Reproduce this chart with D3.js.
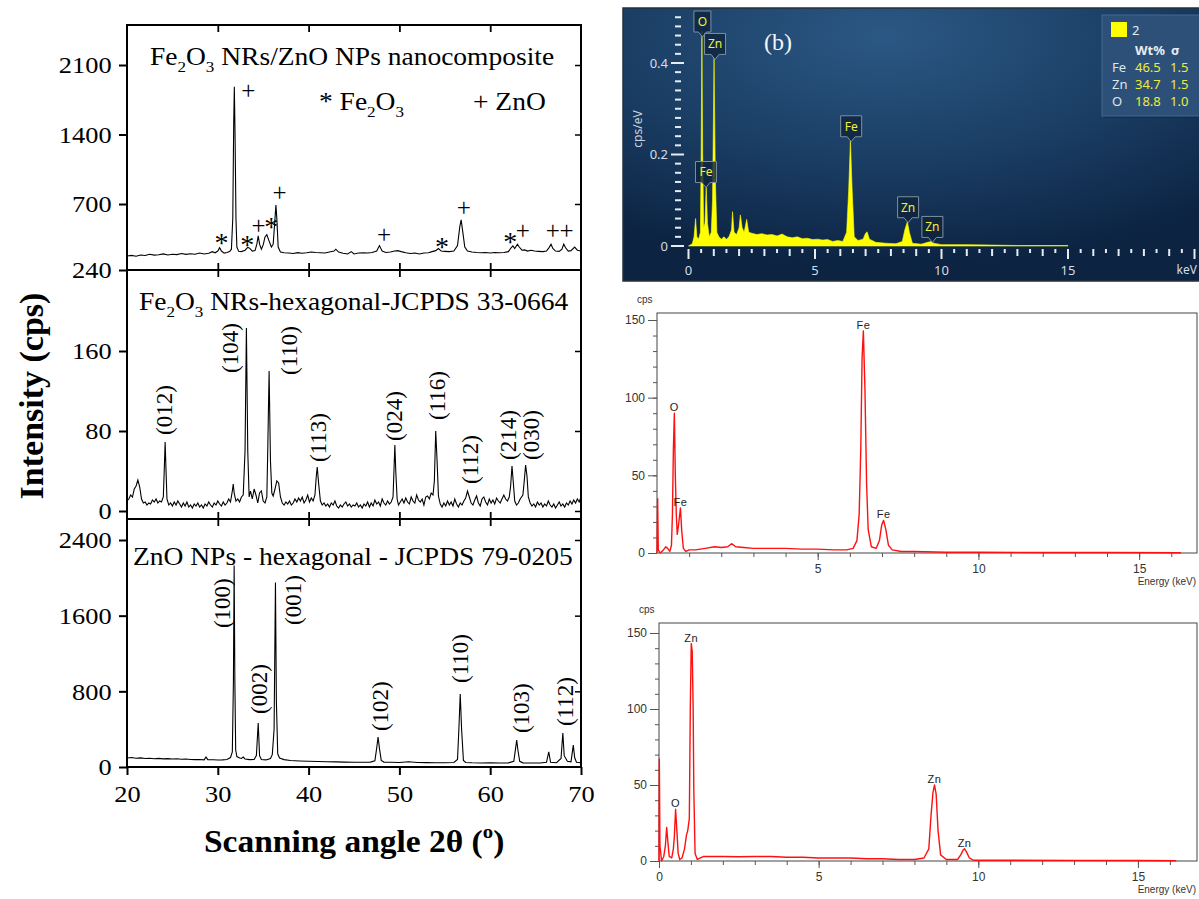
<!DOCTYPE html>
<html>
<head>
<meta charset="utf-8">
<script src="https://cdn.jsdelivr.net/npm/d3@7"></script>
<style>
  body { margin: 0; background: #fff; }
  svg { display: block; }
</style>
</head>
<body>
<svg width="1199" height="899"></svg>
<script>
// ---------- XRD data (2theta in degrees, intensity in cps) ----------
const xrdTicksX = [20, 30, 40, 50, 60, 70]
const compTicksY = [240, 700, 1400, 2100]
const fe2o3TicksY = [0, 80, 160]
const znoTicksY = [0, 800, 1600, 2400]

const compPattern = [
  [20.0,338],[20.5,342],[21.0,336],[21.5,345],[22.0,341],[22.5,350],[23.0,344],[23.5,346],[24.0,352],[24.5,345],
  [25.0,350],[25.5,347],[26.0,355],[26.5,349],[27.0,353],[27.5,350],[28.0,358],[28.5,352],[29.0,357],[29.4,368],
  [29.7,360],[30.0,372],[30.2,395],[30.4,372],[30.7,358],[31.0,362],[31.3,368],[31.5,385],[31.65,600],[31.75,1500],
  [31.82,1880],[31.9,1400],[32.0,600],[32.1,400],[32.3,370],[32.6,368],[33.0,378],[33.3,398],[33.5,392],[33.8,372],
  [34.1,375],[34.3,420],[34.45,478],[34.6,420],[34.8,385],[35.0,415],[35.2,470],[35.4,486],[35.6,450],[35.9,400],
  [36.1,420],[36.3,600],[36.4,692],[36.5,600],[36.65,400],[36.9,365],[37.3,360],[37.8,358],[38.3,355],[38.8,361],
  [39.3,357],[39.8,360],[40.3,365],[40.8,362],[41.3,360],[41.8,358],[42.3,365],[42.8,372],[43.0,385],[43.3,365],
  [43.8,357],[44.3,352],[44.7,368],[45.0,352],[45.5,358],[46.0,360],[46.5,358],[47.0,362],[47.5,372],[47.8,410],
  [48.1,372],[48.5,362],[49.0,365],[49.5,372],[49.8,375],[50.2,368],[50.7,360],[51.2,355],[51.7,358],[52.2,352],
  [52.7,358],[53.2,360],[53.6,368],[54.0,375],[54.3,390],[54.6,372],[55.0,370],[55.5,368],[56.0,372],[56.4,410],
  [56.65,540],[56.8,590],[56.95,520],[57.2,400],[57.5,372],[58.0,365],[58.5,362],[59.0,360],[59.5,362],[60.0,358],
  [60.5,362],[61.0,360],[61.5,362],[62.0,368],[62.3,395],[62.5,408],[62.7,390],[63.0,420],[63.2,400],[63.5,378],
  [63.8,380],[64.1,372],[64.5,378],[64.9,372],[65.3,370],[65.8,368],[66.2,372],[66.5,398],[66.7,420],[66.9,390],
  [67.2,372],[67.6,370],[67.9,385],[68.1,420],[68.3,395],[68.6,372],[68.9,375],[69.3,400],[69.6,378],[70.0,372]
]

const fe2o3Pattern = [
  [20.0,10],[20.2,12],[20.4,16],[20.6,14],[20.8,22],[21.0,25],[21.2,31],[21.4,24],[21.6,12],[21.8,8],
  [22.0,9],[22.2,6],[22.4,8],[22.6,7],[22.8,11],[23.0,9],[23.2,12],[23.4,8],[23.6,10],[23.8,9],
  [24.0,14],[24.1,40],[24.2,69],[24.3,40],[24.4,12],[24.6,6],[24.8,8],[25.0,5],[25.2,9],[25.4,6],
  [25.6,10],[25.8,7],[26.0,4],[26.2,8],[26.4,5],[26.6,9],[26.8,4],[27.0,6],[27.2,3],[27.4,7],
  [27.6,5],[27.8,8],[28.0,4],[28.2,6],[28.4,3],[28.6,7],[28.8,5],[29.0,9],[29.2,6],[29.4,4],
  [29.6,8],[29.8,6],[30.0,10],[30.2,7],[30.4,5],[30.6,9],[30.8,6],[31.0,8],[31.2,12],[31.4,9],
  [31.6,20],[31.7,27],[31.8,18],[32.0,10],[32.2,12],[32.4,9],[32.6,14],[32.8,16],[33.0,60],[33.15,183],
  [33.3,60],[33.45,14],[33.6,20],[33.8,12],[34.0,22],[34.2,16],[34.4,8],[34.6,18],[34.8,20],[35.0,10],
  [35.2,8],[35.4,14],[35.5,60],[35.65,140],[35.8,50],[35.95,18],[36.1,15],[36.3,22],[36.5,30],[36.7,28],
  [36.9,14],[37.1,8],[37.3,6],[37.5,9],[37.7,7],[37.9,10],[38.1,6],[38.3,8],[38.5,12],[38.7,9],
  [38.9,13],[39.1,10],[39.3,14],[39.5,8],[39.7,11],[39.9,16],[40.1,9],[40.3,13],[40.5,10],[40.7,16],
  [40.85,35],[40.95,44],[41.1,28],[41.3,10],[41.5,6],[41.7,8],[41.9,5],[42.1,7],[42.3,4],[42.5,8],
  [42.7,6],[42.9,10],[43.1,5],[43.3,3],[43.5,6],[43.7,4],[43.9,7],[44.1,9],[44.3,5],[44.5,7],
  [44.7,4],[44.9,6],[45.1,5],[45.3,8],[45.5,4],[45.7,6],[45.9,3],[46.1,7],[46.3,5],[46.5,9],
  [46.7,4],[46.9,8],[47.1,5],[47.3,11],[47.5,7],[47.7,9],[47.9,5],[48.1,12],[48.3,8],[48.5,6],
  [48.7,10],[48.9,7],[49.1,9],[49.3,14],[49.4,40],[49.5,66],[49.6,40],[49.75,12],[49.9,6],[50.1,9],
  [50.3,12],[50.5,8],[50.7,13],[50.9,9],[51.1,7],[51.3,14],[51.5,10],[51.7,8],[51.9,16],[52.1,11],
  [52.3,9],[52.5,12],[52.7,6],[52.9,14],[53.1,15],[53.3,12],[53.5,18],[53.7,16],[53.85,30],[54.0,80],
  [54.15,50],[54.3,15],[54.5,7],[54.7,4],[54.9,8],[55.1,5],[55.3,10],[55.5,6],[55.7,9],[55.9,5],
  [56.1,12],[56.3,7],[56.5,4],[56.7,8],[56.9,6],[57.1,10],[57.3,13],[57.5,20],[57.7,14],[57.9,8],
  [58.1,6],[58.3,11],[58.5,15],[58.7,8],[58.9,5],[59.1,12],[59.3,14],[59.5,9],[59.7,6],[59.9,12],
  [60.1,8],[60.3,11],[60.5,7],[60.7,13],[60.9,10],[61.1,8],[61.3,12],[61.5,16],[61.7,12],[61.9,10],
  [62.1,14],[62.25,25],[62.4,45],[62.55,28],[62.7,10],[62.9,6],[63.1,8],[63.3,12],[63.6,16],[63.75,30],
  [63.9,46],[64.05,35],[64.2,14],[64.4,8],[64.6,5],[64.8,7],[65.0,4],[65.2,9],[65.4,6],[65.6,8],
  [65.8,4],[66.0,7],[66.2,5],[66.4,10],[66.6,6],[66.8,4],[67.0,7],[67.2,3],[67.4,6],[67.6,9],
  [67.8,5],[68.0,7],[68.2,4],[68.4,8],[68.6,6],[68.8,10],[69.0,7],[69.2,11],[69.4,8],[69.6,12],
  [69.8,9],[70.0,14]
]

const znoPattern = [
  [20.0,95],[20.5,100],[21.0,92],[21.5,96],[22.0,90],[22.5,93],[23.0,88],[23.5,91],[24.0,86],[24.5,89],
  [25.0,85],[25.5,87],[26.0,82],[26.5,85],[27.0,80],[27.5,78],[28.0,80],[28.5,76],[28.7,105],[28.9,78],
  [29.5,76],[30.0,74],[30.5,75],[31.0,80],[31.4,100],[31.6,160],[31.72,900],[31.8,2130],[31.88,900],[31.97,180],
  [32.1,110],[32.4,95],[32.6,90],[32.8,105],[33.0,85],[33.5,78],[34.0,80],[34.25,120],[34.45,465],[34.6,120],
  [34.8,80],[35.3,75],[35.8,90],[36.0,130],[36.2,400],[36.35,1950],[36.45,700],[36.6,140],[36.8,95],[37.3,78],
  [38.0,68],[39.0,64],[40.0,60],[41.0,58],[42.0,55],[43.0,54],[44.0,52],[45.0,50],[46.0,50],[46.8,52],
  [47.3,65],[47.5,200],[47.65,317],[47.8,200],[48.0,70],[48.3,52],[49.0,50],[50.0,48],[51.0,55],[52.0,47],
  [53.0,46],[54.0,45],[55.0,45],[56.0,48],[56.4,80],[56.55,400],[56.7,772],[56.85,400],[57.05,70],[57.3,48],
  [58.0,45],[59.0,43],[60.0,45],[61.0,42],[62.0,44],[62.6,60],[62.8,200],[62.92,285],[63.05,180],[63.25,60],
  [63.6,44],[64.5,42],[65.5,42],[66.2,50],[66.45,160],[66.65,50],[67.3,45],[67.8,90],[68.0,360],[68.15,120],
  [68.5,60],[68.9,55],[69.15,232],[69.3,100],[69.5,50],[70.0,45]
]

// phase markers on the composite pattern: symbol, 2theta, cps
const compMarks = [
  ['+',33.35,1838],['*',30.4,463],['*',33.25,449],['+',34.5,547],['*',35.9,575],['+',36.8,811],
  ['+',48.3,484],['*',54.7,435],['+',57.1,672],['*',62.2,470],['+',63.6,512],['+',66.9,512],['+',68.4,512]
]
// Miller indices: label, 2theta, cps at label foot
const fe2o3Planes = [
  ['(012)',24.2,76],['(104)',31.5,138],['(110)',38.0,136],['(113)',41.2,49],['(024)',49.5,70],
  ['(116)',54.3,91],['(112)',57.9,27],['(214)',62.05,51],['(030)',64.6,51]
]
const znoPlanes = [
  ['(100)',30.6,1469],['(002)',34.7,560],['(001)',38.4,1501],['(102)',48.0,380],
  ['(110)',56.75,888],['(103)',63.5,359],['(112)',68.35,433]
]

// ---------- EDS data (energy keV) ----------
const edsCompTicksY = [0, 0.2, 0.4]
const edsCompTicksX = [0, 5, 10, 15]
const edsComp = [
  [0.0,0],[0.15,0.005],[0.22,0.02],[0.28,0.06],[0.33,0.02],[0.4,0.015],[0.47,0.03],[0.5,0.2],[0.53,0.47],[0.56,0.2],
  [0.6,0.04],[0.65,0.05],[0.7,0.13],[0.75,0.05],[0.82,0.02],[0.9,0.03],[0.95,0.1],[1.01,0.41],[1.06,0.15],[1.12,0.03],
  [1.2,0.02],[1.3,0.015],[1.4,0.02],[1.5,0.015],[1.6,0.02],[1.7,0.035],[1.74,0.075],[1.8,0.03],[1.9,0.025],[2.0,0.04],
  [2.05,0.068],[2.12,0.04],[2.2,0.03],[2.3,0.058],[2.38,0.03],[2.5,0.028],[2.7,0.025],[2.9,0.027],[3.1,0.024],[3.3,0.025],
  [3.5,0.022],[3.7,0.026],[3.9,0.02],[4.1,0.018],[4.3,0.02],[4.5,0.016],[4.7,0.017],[4.9,0.014],[5.1,0.015],[5.3,0.013],
  [5.5,0.014],[5.7,0.01],[5.9,0.012],[6.1,0.01],[6.25,0.03],[6.33,0.12],[6.4,0.23],[6.47,0.12],[6.55,0.02],[6.7,0.012],
  [6.9,0.015],[7.0,0.028],[7.06,0.031],[7.15,0.015],[7.4,0.008],[7.8,0.006],[8.2,0.005],[8.45,0.01],[8.55,0.035],[8.65,0.053],
  [8.73,0.03],[8.85,0.006],[9.2,0.004],[9.45,0.008],[9.6,0.01],[9.7,0.006],[10.0,0.003],[11.0,0.003],[12.0,0.002],[13.0,0.001],
  [15.0,0.001],[15.0,0]
]
const edsCompPeaks = [['O',0.55,0.47],['Zn',1.05,0.41],['Fe',0.69,0.13],['Fe',6.43,0.23],['Zn',8.68,0.053],['Zn',9.64,0.01]]
const wtElements = ['Fe', 'Zn', 'O']
const wtPercent = ['46.5', '34.7', '18.8']
const wtSigma = ['1.5', '1.5', '1.0']

const edsTicksY = [0, 50, 100, 150]
const edsFe2o3 = [
  [0.0,0],[0.02,35],[0.04,2],[0.1,0],[0.2,2],[0.27,4],[0.33,3],[0.4,1],[0.45,5],[0.48,25],
  [0.51,67],[0.54,90],[0.57,50],[0.6,25],[0.63,12],[0.67,18],[0.73,29],[0.77,14],[0.82,3],[0.9,1],
  [1.0,2],[1.2,2],[1.5,3],[1.8,4],[2.0,3.5],[2.2,4],[2.32,6],[2.45,4],[2.7,3.5],[3.0,3],
  [3.5,3],[4.0,3],[4.5,2.5],[5.0,2.5],[5.5,2],[5.9,2],[6.1,3],[6.22,8],[6.29,25],[6.34,67],
  [6.38,125],[6.42,143],[6.47,105],[6.52,45],[6.57,15],[6.67,4],[6.82,3],[6.92,8],[6.99,18],[7.05,21],
  [7.12,15],[7.2,5],[7.32,2],[7.6,1],[8.0,1],[9.0,0.5],[10.0,0.5],[12.0,0.3],[14.0,0.3],[16.3,0.2]
]
const edsFe2o3Peaks = [['Fe',6.42,143],['O',0.54,90],['Fe',0.73,29],['Fe',7.05,21]]
const edsZno = [
  [0.0,0],[0.01,67],[0.03,10],[0.08,0],[0.15,3],[0.2,10],[0.24,22],[0.28,12],[0.32,3],[0.4,2],
  [0.45,8],[0.48,16],[0.52,34],[0.56,20],[0.6,5],[0.65,1],[0.72,2],[0.8,8],[0.86,17],[0.9,20],
  [0.95,28],[0.98,100],[1.01,143],[1.04,138],[1.07,100],[1.09,47],[1.13,5],[1.2,1],[1.4,3],[1.7,3],
  [2.0,3],[2.5,2.8],[3.0,3],[3.5,3],[4.0,2.5],[4.5,2.5],[5.0,2],[5.5,2],[6.0,2],[6.5,1.5],
  [7.0,1.5],[7.5,1],[8.0,1],[8.3,2],[8.45,8],[8.52,30],[8.58,45],[8.63,50],[8.68,44],[8.74,20],
  [8.82,4],[9.0,1],[9.35,1],[9.45,4],[9.52,7],[9.57,8],[9.63,6],[9.72,2],[9.85,0.5],[11.0,0.5],
  [13.0,0.4],[15.0,0.3],[16.2,0.2]
]
const edsZnoPeaks = [['Zn',1.01,143],['O',0.52,34],['Zn',8.63,50],['Zn',9.57,8]]

// ---------- setup ----------
const svg = d3.select('svg')
const serif = '"Liberation Serif","Times New Roman",serif'
const sans = '"Liberation Sans",Arial,sans-serif'
const ui = '"Noto Sans","Open Sans",sans-serif'
const stretch = 'scale(1.1,1)'

// text with subscript pieces, parts: [string, 'sub'|'sup'|null]
function richText(g, x, y, parts, opts) {
  const t = g.append('text')
    .attr('transform', `translate(${x},${y}) ${opts.stretch || ''}`)
    .attr('font-family', opts.family || serif)
    .attr('font-size', opts.size)
    .attr('font-weight', opts.weight || 'normal')
    .attr('fill', opts.fill || '#000')
  let shift = 0
  parts.forEach(([s, kind]) => {
    const target = kind === 'sub' ? 0.28 * opts.size : kind === 'sup' ? -0.45 * opts.size : 0
    t.append('tspan')
      .attr('dy', target - shift)
      .attr('font-size', kind ? opts.size * 0.62 : opts.size)
      .text(s)
    shift = target
  })
  return t
}

// ---------- left: XRD panels ----------
const xScale = d3.scaleLinear().domain([20, 70]).range([127, 581])
const panels = [
  { data: compPattern, ticks: compTicksY, top: 25, bottom: 270,
    y: d3.scaleLinear().domain([240, 700, 2503]).range([270, 204, 25]) },
  { data: fe2o3Pattern, ticks: fe2o3TicksY, top: 270, bottom: 519,
    y: d3.scaleLinear().domain([-8, 241]).range([519, 270]) },
  { data: znoPattern, ticks: znoTicksY, top: 519, bottom: 767,
    y: d3.scaleLinear().domain([0, 2622]).range([767, 519]) }
]

const left = svg.append('g')
panels.forEach((p, i) => {
  const clipId = 'clip' + i
  left.append('clipPath').attr('id', clipId)
    .append('rect').attr('x', 127).attr('y', p.top).attr('width', 454).attr('height', p.bottom - p.top)

  const line = d3.line().x(d => xScale(d[0])).y(d => p.y(d[1]))
  left.append('path')
    .datum(p.data)
    .attr('clip-path', `url(#${clipId})`)
    .attr('fill', 'none')
    .attr('stroke', '#000')
    .attr('stroke-width', 1.1)
    .attr('d', line)

  const yAxisG = left.append('g')
    .attr('transform', 'translate(127,0)')
    .call(d3.axisLeft(p.y).tickValues(p.ticks).tickSize(8).tickPadding(6).tickFormat(d3.format('d')))
  yAxisG.select('.domain').remove()
  yAxisG.selectAll('.tick line').attr('stroke-width', 2)
  yAxisG.selectAll('text').attr('font-family', serif).attr('font-size', 24).attr('fill', '#000')
    .attr('transform', stretch)

  const rightG = left.append('g')
    .attr('transform', 'translate(581,0)')
    .call(d3.axisLeft(p.y).tickValues(p.ticks.filter(v => p.y(v) > p.top + 2 && p.y(v) < p.bottom - 2)).tickSize(6).tickFormat(''))
  rightG.select('.domain').remove()
  rightG.selectAll('.tick line').attr('stroke-width', 1.5)

  const topG = left.append('g')
    .attr('transform', `translate(0,${p.top})`)
    .call(d3.axisBottom(xScale).tickValues([30, 40, 50, 60]).tickSize(7).tickFormat(''))
  topG.select('.domain').remove()
  topG.selectAll('.tick line').attr('stroke-width', 1.8)

  if (i < 2) {
    const botG = left.append('g')
      .attr('transform', `translate(0,${p.bottom})`)
      .call(d3.axisTop(xScale).tickValues([30, 40, 50, 60]).tickSize(7).tickFormat(''))
    botG.select('.domain').remove()
    botG.selectAll('.tick line').attr('stroke-width', 1.8)
  } else {
    const xAxisG = left.append('g')
      .attr('transform', `translate(0,${p.bottom})`)
      .call(d3.axisBottom(xScale).tickValues(xrdTicksX).tickSize(8).tickPadding(10))
    xAxisG.select('.domain').remove()
    xAxisG.selectAll('.tick line').attr('stroke-width', 2)
    xAxisG.selectAll('text').attr('font-family', serif).attr('font-size', 24).attr('fill', '#000')
      .attr('transform', stretch)
  }

  left.append('rect')
    .attr('x', 127).attr('y', p.top).attr('width', 454).attr('height', p.bottom - p.top)
    .attr('fill', 'none').attr('stroke', '#000').attr('stroke-width', 2)
})

// titles
richText(left, 150, 65, [['Fe'], ['2', 'sub'], ['O'], ['3', 'sub'], [' NRs/ZnO NPs nanocomposite']], { size: 25, stretch })
richText(left, 319, 110, [['* Fe'], ['2', 'sub'], ['O'], ['3', 'sub']], { size: 25, stretch })
richText(left, 473, 110, [['+ ZnO']], { size: 25, stretch })
richText(left, 139, 310, [['Fe'], ['2', 'sub'], ['O'], ['3', 'sub'], [' NRs-hexagonal-JCPDS 33-0664']], { size: 25, stretch })
richText(left, 133, 565, [['ZnO NPs - hexagonal - JCPDS 79-0205']], { size: 25, stretch })

// phase markers
const topY = panels[0].y
left.selectAll('.mark')
  .data(compMarks)
  .enter()
  .append('text')
  .classed('mark', true)
  .attr('x', d => xScale(d[1]))
  .attr('y', d => topY(d[2]))
  .attr('dy', d => d[0] === '*' ? '0.5em' : '0.33em')
  .attr('text-anchor', 'middle')
  .attr('font-family', serif)
  .attr('font-size', d => d[0] === '*' ? 28 : 25)
  .text(d => d[0])

// Miller index labels
function planeLabels(list, yScale) {
  left.selectAll(null)
    .data(list)
    .enter()
    .append('text')
    .attr('transform', d => `translate(${xScale(d[1])},${yScale(d[2])}) rotate(-90)`)
    .attr('dy', '0.3em')
    .attr('font-family', serif)
    .attr('font-size', 23)
    .text(d => d[0])
}
planeLabels(fe2o3Planes, panels[1].y)
planeLabels(znoPlanes, panels[2].y)

// axis titles
left.append('text')
  .attr('transform', 'translate(31,396) rotate(-90)')
  .attr('text-anchor', 'middle')
  .attr('dy', '0.35em')
  .attr('font-family', serif).attr('font-weight', 'bold').attr('font-size', 34)
  .text('Intensity (cps)')
richText(left, 204, 852, [['Scanning angle 2θ ('], ['o', 'sup'], [')']], { size: 31, weight: 'bold', stretch: 'scale(1.08,1)' })

// ---------- right top: EDS of composite ----------
const eb = svg.append('g')
const defs = svg.append('defs')
const grad = defs.append('radialGradient').attr('id', 'bgGrad')
  .attr('cx', '45%').attr('cy', '10%').attr('r', '85%')
grad.append('stop').attr('offset', '0%').attr('stop-color', '#2b5884')
grad.append('stop').attr('offset', '55%').attr('stop-color', '#1a3d63')
grad.append('stop').attr('offset', '100%').attr('stop-color', '#0c2342')

eb.append('rect').attr('x', 623).attr('y', 8).attr('width', 580).attr('height', 273)
  .attr('fill', 'url(#bgGrad)').attr('stroke', '#24303c').attr('stroke-width', 1.5)

const xb = d3.scaleLinear().domain([0, 20]).range([688.5, 1194.5])
const yb = d3.scaleLinear().domain([0, 0.5]).range([246, 17.25])

eb.append('path')
  .datum(edsComp)
  .attr('fill', '#ffff00')
  .attr('stroke', '#ffff00')
  .attr('stroke-width', 0.6)
  .attr('d', d3.area().x(d => xb(d[0])).y0(yb(0)).y1(d => yb(d[1])))

// y ticks: dashes every 0.02, longer at labelled values
const ybMinor = d3.range(0, 0.501, 0.02)
const isMajorY = d => edsCompTicksY.some(v => Math.abs(v - d) < 1e-6)
eb.selectAll('.yminor')
  .data(ybMinor)
  .enter()
  .append('line')
  .attr('x1', d => isMajorY(d) ? 671 : 675)
  .attr('x2', d => isMajorY(d) ? 684 : 681)
  .attr('y1', d => yb(d)).attr('y2', d => yb(d))
  .attr('stroke', '#e6ecf2').attr('stroke-width', 2)
eb.selectAll('.ylab')
  .data(edsCompTicksY)
  .enter()
  .append('text')
  .attr('x', 668).attr('y', d => yb(d)).attr('dy', '0.35em')
  .attr('text-anchor', 'end')
  .attr('font-family', ui).attr('font-size', 13).attr('fill', '#d6dde6')
  .text(d => d === 0 ? '0' : d.toFixed(1))
eb.append('text')
  .attr('transform', 'translate(638,129) rotate(-90)')
  .attr('text-anchor', 'middle').attr('dy', '0.35em')
  .attr('font-family', ui).attr('font-size', 12).attr('fill', '#c9d2dc')
  .text('cps/eV')

// x ticks every 0.5 keV
const xbMinor = d3.range(0, 20.01, 0.5)
eb.selectAll('.xminor')
  .data(xbMinor)
  .enter()
  .append('line')
  .attr('x1', d => xb(d)).attr('x2', d => xb(d))
  .attr('y1', 249)
  .attr('y2', d => d % 5 === 0 ? 259 : (d % 1 === 0 ? 256 : 253))
  .attr('stroke', '#e6ecf2').attr('stroke-width', 2)
eb.selectAll('.xlab')
  .data(edsCompTicksX)
  .enter()
  .append('text')
  .attr('x', d => xb(d)).attr('y', 270).attr('dy', '0.35em')
  .attr('text-anchor', 'middle')
  .attr('font-family', ui).attr('font-size', 13).attr('fill', '#d6dde6')
  .text(d => d)
eb.append('text')
  .attr('x', 1197).attr('y', 270).attr('dy', '0.35em')
  .attr('text-anchor', 'end')
  .attr('font-family', ui).attr('font-size', 12).attr('fill', '#d6dde6')
  .text('keV')

// peak tags
edsCompPeaks.forEach(([name, e, v]) => {
  const px = xb(e), tip = Math.max(yb(v) + 1, 37)
  const w = name.length > 1 ? 21 : 17, h = 21
  const g = eb.append('g')
  g.append('path')
    .attr('d', `M${px - w / 2},${tip - 5 - h} h${w} v${h} h${-(w / 2 - 4)} l-4,5 l-4,-5 h${-(w / 2 - 4)} Z`)
    .attr('fill', 'rgba(16,36,60,0.82)').attr('stroke', '#7e90a4').attr('stroke-width', 1)
  g.append('text')
    .attr('x', px).attr('y', tip - 5 - h / 2).attr('dy', '0.36em')
    .attr('text-anchor', 'middle')
    .attr('font-family', ui).attr('font-size', 12).attr('fill', '#f2f23a')
    .text(name)
})

eb.append('text')
  .attr('x', 778).attr('y', 42).attr('dy', '0.35em').attr('text-anchor', 'middle')
  .attr('font-family', serif).attr('font-size', 24).attr('fill', '#f4f6f8')
  .text('(b)')

// composition box
const lg = eb.append('g')
lg.append('rect').attr('x', 1104).attr('y', 17).attr('width', 100).attr('height', 101)
  .attr('fill', '#0e2340').attr('opacity', 0.5)
lg.append('rect').attr('x', 1102).attr('y', 15).attr('width', 100).attr('height', 101)
  .attr('fill', '#2d5078').attr('stroke', '#45698f').attr('stroke-width', 1)
lg.append('rect').attr('x', 1111).attr('y', 22).attr('width', 16).attr('height', 15).attr('fill', '#ffff00')
lg.append('text').attr('x', 1132).attr('y', 30).attr('dy', '0.36em')
  .attr('font-family', ui).attr('font-size', 13).attr('fill', '#e8edf2').text('2')
lg.append('text').attr('x', 1135).attr('y', 50).attr('dy', '0.36em')
  .attr('font-family', ui).attr('font-size', 13).attr('font-weight', 'bold').attr('fill', '#e8edf2').text('Wt%')
lg.append('text').attr('x', 1171).attr('y', 50).attr('dy', '0.36em')
  .attr('font-family', ui).attr('font-size', 13).attr('font-weight', 'bold').attr('fill', '#e8edf2').text('σ')
wtElements.forEach((el, i) => {
  const yy = 67 + i * 17
  lg.append('text').attr('x', 1112).attr('y', yy).attr('dy', '0.36em')
    .attr('font-family', ui).attr('font-size', 13).attr('fill', '#dfe5ec').text(el)
  lg.append('text').attr('x', 1135).attr('y', yy).attr('dy', '0.36em')
    .attr('font-family', ui).attr('font-size', 13).attr('fill', '#eeee3a').text(wtPercent[i])
  lg.append('text').attr('x', 1170).attr('y', yy).attr('dy', '0.36em')
    .attr('font-family', ui).attr('font-size', 13).attr('fill', '#eeee3a').text(wtSigma[i])
})

// ---------- right: red EDS panels ----------
function redPanel(cfg) {
  const g = svg.append('g')
  const x = d3.scaleLinear().domain([0, cfg.xMax]).range([cfg.left, 1197])
  const y = d3.scaleLinear().domain([0, 150]).range([cfg.bottom, cfg.y150])
  const topVal = y.invert(cfg.top)

  g.append('rect').attr('x', cfg.left).attr('y', cfg.top)
    .attr('width', 1197 - cfg.left).attr('height', cfg.bottom - cfg.top)
    .attr('fill', '#fff').attr('stroke', '#444').attr('stroke-width', 1)

  const yMinor = g.append('g').attr('transform', `translate(${cfg.left},0)`)
    .call(d3.axisLeft(y).tickValues(d3.range(0, Math.floor(topVal) + 1, 10)).tickSize(4).tickFormat(''))
  yMinor.select('.domain').remove()
  const yMajor = g.append('g').attr('transform', `translate(${cfg.left},0)`)
    .call(d3.axisLeft(y).tickValues(edsTicksY).tickSize(9).tickPadding(3))
  yMajor.select('.domain').remove()
  yMajor.selectAll('text').attr('font-family', sans).attr('font-size', 12).attr('fill', '#333')

  const xMinor = g.append('g').attr('transform', `translate(0,${cfg.bottom})`)
    .call(d3.axisBottom(x).tickValues(d3.range(1, Math.floor(cfg.xMax) + 1)).tickSize(4).tickFormat(''))
  xMinor.select('.domain').remove()
  const xMajor = g.append('g').attr('transform', `translate(0,${cfg.bottom})`)
    .call(d3.axisBottom(x).tickValues(cfg.xTicks).tickSize(7).tickPadding(4))
  xMajor.select('.domain').remove()
  xMajor.selectAll('text').attr('font-family', sans).attr('font-size', 12).attr('fill', '#333')
  g.selectAll('.tick line').attr('stroke', '#555')

  g.append('path')
    .datum(cfg.data)
    .attr('fill', 'none')
    .attr('stroke', '#ff1010')
    .attr('stroke-width', 1.4)
    .attr('stroke-linejoin', 'round')
    .attr('d', d3.line().x(d => x(d[0])).y(d => y(d[1])))

  g.selectAll('.plab')
    .data(cfg.peaks)
    .enter()
    .append('text')
    .attr('x', d => x(d[1]))
    .attr('y', d => y(d[2]) - 2)
    .attr('text-anchor', 'middle')
    .attr('font-family', sans).attr('font-size', 11).attr('fill', '#222')
    .attr('letter-spacing', 0.5)
    .text(d => d[0])

  g.append('text').attr('x', cfg.left - 20).attr('y', cfg.top - 14)
    .attr('dy', '0.35em')
    .attr('font-family', sans).attr('font-size', 10).attr('fill', '#333').text('cps')
  g.append('text').attr('x', 1196).attr('y', cfg.bottom + 32)
    .attr('text-anchor', 'end')
    .attr('font-family', sans).attr('font-size', 10).attr('fill', '#333').text('Energy (keV)')
}

redPanel({ data: edsFe2o3, peaks: edsFe2o3Peaks, left: 657, top: 313, bottom: 553, y150: 320,
  xMax: 16.8, xTicks: [5, 10, 15] })
redPanel({ data: edsZno, peaks: edsZnoPeaks, left: 659, top: 623, bottom: 861, y150: 633,
  xMax: 16.85, xTicks: [0, 5, 10, 15] })
</script>
</body>
</html>
